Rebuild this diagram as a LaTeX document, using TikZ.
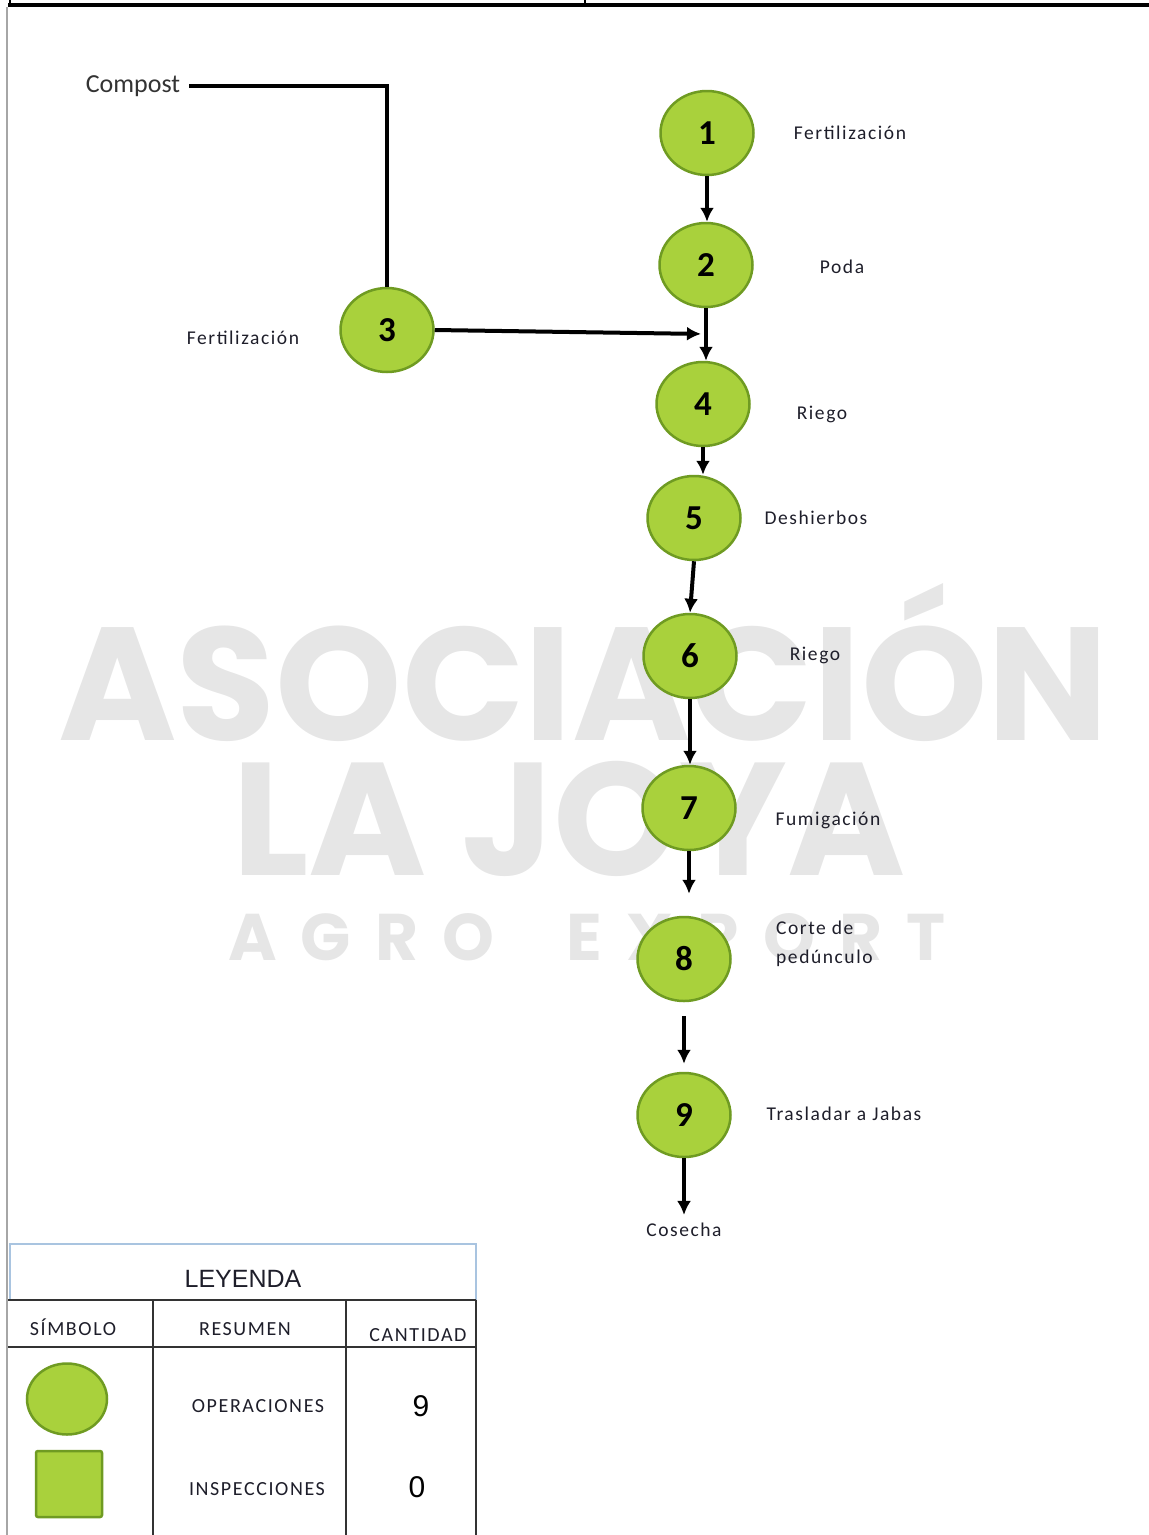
\documentclass[tikz,border=0pt]{standalone}
\usepackage{graphicx}
\usepackage{fontspec}
\setmainfont{Carlito}
\newfontfamily\arialf{Liberation Sans}
\newfontfamily\wmfont{Poppins}
\newfontfamily\lblf[LetterSpace=8]{Carlito}
\usetikzlibrary{shapes.geometric,arrows.meta}
\definecolor{opfill}{HTML}{A9D13C}
\definecolor{opdraw}{HTML}{6F9B22}
\definecolor{wmgray}{HTML}{E6E6E6}
\definecolor{lbl}{HTML}{1E1E2A}
\definecolor{legblue}{HTML}{A9C4E0}
\begin{document}
\begin{tikzpicture}[x=1pt,y=-1pt,
  op/.style={ellipse, draw=opdraw, fill=opfill, line width=2.5pt, minimum width=93pt, minimum height=84pt, inner sep=0pt, font=\fontsize{35}{35}\selectfont\bfseries},
  lab/.style={font=\lblf\fontsize{19.5}{29}\selectfont, text=lbl, inner sep=0pt},
  hdr/.style={font=\lblf\fontsize{20}{20}\selectfont, text=lbl, inner sep=0pt},
  arr/.style={line width=4pt, -{Latex[length=14pt,width=14pt]}},
  wm/.style={text=wmgray, inner sep=0pt, anchor=base west},
  grid/.style={line width=2pt, draw=black!80}
]
\useasboundingbox (0,0) rectangle (1149,1535);

% watermark
\node[wm] (wm1) at (58,740) {\resizebox{1050pt}{!}{\wmfont\bfseries ASOCIACIÓN}};
\node[wm] (wm2) at (232,875) {\resizebox{673pt}{!}{\wmfont\bfseries LA JOYA}};
\node[wm] (wm3) at (228,960) {\wmfont\bfseries\fontsize{66}{66}\selectfont\makebox[717pt][s]{A\hfill G\hfill R\hfill O\hskip 0pt plus 3fill E\hfill X\hfill P\hfill O\hfill R\hfill T}};

% frame
\draw[line width=2pt, draw=gray!70] (7,7) -- (7,1535);
\draw[line width=4pt] (8,5) -- (1149,5);
\draw[line width=2.5pt] (10,0) -- (10,5);
\draw[line width=2.5pt] (585,0) -- (585,5);

% operations
\node[op] (n1) at (707,133) {1};
\node[op] (n2) at (706,265) {2};
\node[op] (n3) at (387,330) {3};
\node[op] (n4) at (703,404) {4};
\node[op] (n5) at (694,518) {5};
\node[op] (n6) at (690,656) {6};
\node[op] (n7) at (689,808) {7};
\node[op] (n8) at (684,959) {8};
\node[op] (n9) at (684,1115) {9};

% labels
\node[lab] (l1) at (850,133) {Fertilización};
\node[lab] (l2) at (842,267) {Poda};
\node[lab] (l3) at (243,338) {Fertilización};
\node[lab] (l4) at (822,414) {Riego};
\node[lab] (l5) at (816,518) {Deshierbos};
\node[lab] (l6) at (815,655) {Riego};
\node[lab] (l7) at (828,820) {Fumigación};
\node[lab, anchor=west, align=left] (l8) at (776,944) {Corte de\\pedúnculo};
\node[lab] (l9) at (844,1114) {Trasladar a Jabas};
\node[lab] (cosecha) at (684,1230) {Cosecha};
\node[inner sep=0pt, text=black!80, font=\fontsize{26}{26}\selectfont] (compost) at (133,86) {Compost};

% connectors
\coordinate (j) at (705,334);
\draw[line width=4pt, shorten <=9pt] (compost.east) -| (n3.north);
\draw[arr] (n1.south) -- (n1.south |- n2.north);
\draw[arr] (n2.south) -- (n2.south |- n4.north);
\draw[arr, shorten >=4pt] (n3.east) -- (j);
\draw[arr] (n4.south) -- (n4.south |- n5.north);
\draw[arr] (n5.south) -- (n6.north);
\draw[arr] (n6.south) -- (n6.south |- n7.north);
\draw[arr, shorten >=22pt] (n7.south) -- (n7.south |- n8.north);
\draw[arr, shorten <=14pt, shorten >=8pt] (n8.south) -- (n9.north);
\draw[arr, shorten >=8pt] (n9.south) -- (cosecha.north);

% legend
\draw[legblue, line width=1.5pt] (10,1244) rectangle (476,1300);
\node[inner sep=0pt, font=\arialf\fontsize{25}{25}\selectfont, text=lbl] (leyenda) at (243,1279) {LEYENDA};
\draw[grid] (8,1300) -- (476,1300);
\draw[grid] (8,1347) -- (476,1347);
\draw[grid] (153,1300) -- (153,1535);
\draw[grid] (346,1300) -- (346,1535);
\draw[grid] (476,1300) -- (476,1535);
\node[hdr] (hsim) at (73,1327) {SÍMBOLO};
\node[hdr] (hres) at (245,1329) {RESUMEN};
\node[hdr] (hcan) at (418,1335) {CANTIDAD};
\node[ellipse, draw=opdraw, fill=opfill, line width=2.5pt, minimum width=80pt, minimum height=71pt, inner sep=0pt] (symop) at (67,1399) {};
\node[draw=opdraw, fill=opfill, line width=2.5pt, minimum size=66pt, rounded corners=2pt, inner sep=0pt] (symin) at (69,1484) {};
\node[hdr] (rop) at (258,1406) {OPERACIONES};
\node[hdr] (rin) at (257,1489) {INSPECCIONES};
\node[inner sep=0pt, font=\arialf\fontsize{30}{30}\selectfont] (qop) at (421,1406) {9};
\node[inner sep=0pt, font=\arialf\fontsize{30}{30}\selectfont] (qin) at (417,1487) {0};
\end{tikzpicture}
\end{document}
